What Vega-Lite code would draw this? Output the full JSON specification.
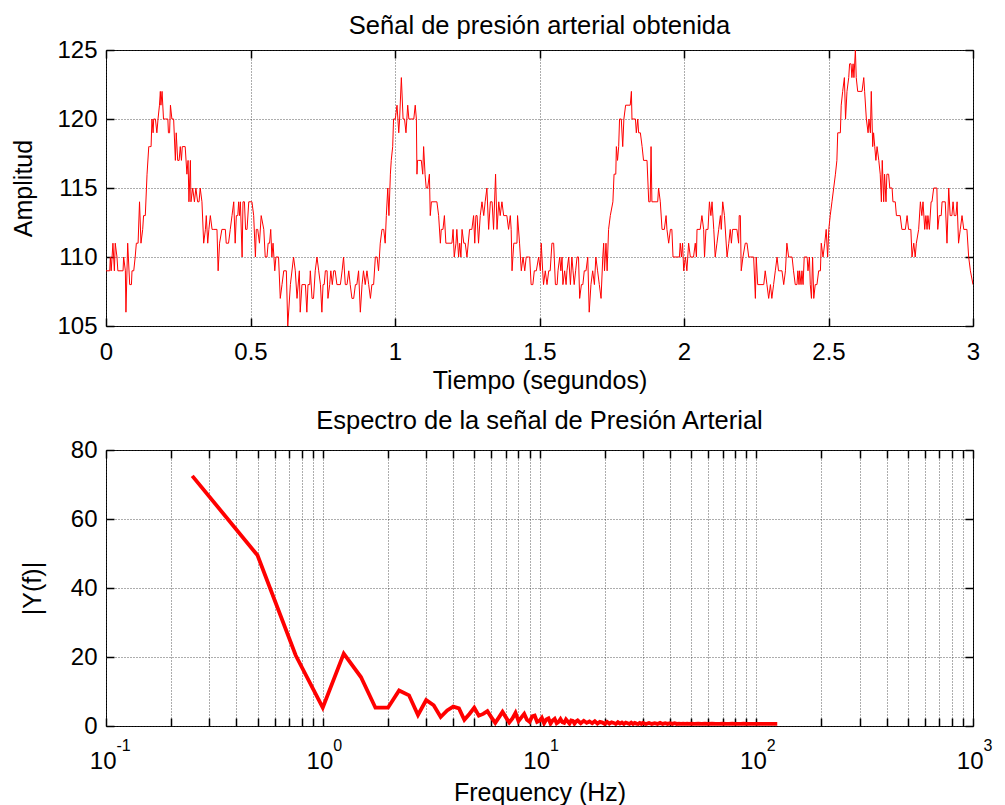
{
  "$schema": "https://vega.github.io/schema/vega-lite/v6.json",
  "background": "white",
  "padding": {"left": 11, "top": 13, "right": 10, "bottom": 0},
  "spacing": 14,
  "config": {
    "font": "Liberation Sans",
    "view": {"stroke": "black", "strokeWidth": 1},
    "axis": {
      "domain": false,
      "labelFont": "Liberation Sans",
      "labelFontSize": 24,
      "labelColor": "black",
      "titleFont": "Liberation Sans",
      "titleFontSize": 25,
      "titleFontWeight": "normal",
      "titleColor": "black",
      "tickColor": "black",
      "tickSize": -8,
      "tickWidth": 1.5,
      "gridColor": "#333333",
      "gridDash": [1, 2],
      "gridWidth": 1,
      "gridOpacity": 0.8,
      "labelOverlap": false,
      "labelFlush": false,
      "labelBound": false
    },
    "title": {"font": "Liberation Sans", "fontSize": 25.5, "fontWeight": "normal", "color": "black", "anchor": "middle"}
  },
  "datasets": {
    "pressure": [
      {"t":0,"p":109},{"t":0.013,"p":109},{"t":0.015,"p":110},{"t":0.018,"p":109},{"t":0.024,"p":111},{"t":0.029,"p":109},{"t":0.032,"p":111},{"t":0.038,"p":110},{"t":0.041,"p":109},{"t":0.059,"p":109},{"t":0.061,"p":110},{"t":0.067,"p":109},{"t":0.069,"p":106},{"t":0.075,"p":111},{"t":0.082,"p":108},{"t":0.088,"p":108},{"t":0.09,"p":109},{"t":0.096,"p":109},{"t":0.101,"p":110},{"t":0.105,"p":111},{"t":0.111,"p":111},{"t":0.116,"p":114},{"t":0.121,"p":111},{"t":0.127,"p":112},{"t":0.13,"p":113},{"t":0.136,"p":113},{"t":0.142,"p":116},{"t":0.148,"p":118},{"t":0.151,"p":118},{"t":0.156,"p":118},{"t":0.159,"p":120},{"t":0.163,"p":119},{"t":0.165,"p":120},{"t":0.171,"p":120},{"t":0.176,"p":119},{"t":0.18,"p":120},{"t":0.185,"p":121},{"t":0.188,"p":122},{"t":0.19,"p":121},{"t":0.194,"p":122},{"t":0.199,"p":120},{"t":0.205,"p":120},{"t":0.214,"p":120},{"t":0.216,"p":119},{"t":0.22,"p":119},{"t":0.223,"p":121},{"t":0.228,"p":120},{"t":0.234,"p":120},{"t":0.24,"p":117},{"t":0.243,"p":119},{"t":0.248,"p":117},{"t":0.253,"p":117},{"t":0.257,"p":118},{"t":0.261,"p":117},{"t":0.264,"p":118},{"t":0.274,"p":118},{"t":0.28,"p":116},{"t":0.284,"p":117},{"t":0.287,"p":114},{"t":0.292,"p":117},{"t":0.294,"p":114},{"t":0.3,"p":115},{"t":0.306,"p":114},{"t":0.311,"p":115},{"t":0.317,"p":114},{"t":0.322,"p":114},{"t":0.326,"p":115},{"t":0.332,"p":114},{"t":0.338,"p":111},{"t":0.344,"p":112},{"t":0.347,"p":113},{"t":0.352,"p":111},{"t":0.356,"p":112},{"t":0.361,"p":113},{"t":0.367,"p":112},{"t":0.373,"p":112},{"t":0.384,"p":112},{"t":0.388,"p":109},{"t":0.393,"p":111},{"t":0.401,"p":112},{"t":0.413,"p":112},{"t":0.416,"p":111},{"t":0.424,"p":111},{"t":0.43,"p":112},{"t":0.436,"p":113},{"t":0.442,"p":114},{"t":0.447,"p":111},{"t":0.451,"p":113},{"t":0.456,"p":113},{"t":0.459,"p":114},{"t":0.462,"p":113},{"t":0.465,"p":114},{"t":0.471,"p":110},{"t":0.474,"p":114},{"t":0.479,"p":114},{"t":0.483,"p":112},{"t":0.488,"p":112},{"t":0.494,"p":114},{"t":0.505,"p":114},{"t":0.511,"p":113},{"t":0.517,"p":110},{"t":0.52,"p":112},{"t":0.525,"p":112},{"t":0.531,"p":111},{"t":0.537,"p":113},{"t":0.546,"p":112},{"t":0.551,"p":110},{"t":0.557,"p":110},{"t":0.561,"p":111},{"t":0.566,"p":111},{"t":0.57,"p":112},{"t":0.574,"p":110},{"t":0.578,"p":111},{"t":0.584,"p":109},{"t":0.588,"p":110},{"t":0.597,"p":110},{"t":0.603,"p":107},{"t":0.609,"p":108},{"t":0.615,"p":109},{"t":0.624,"p":109},{"t":0.629,"p":105},{"t":0.638,"p":108},{"t":0.649,"p":110},{"t":0.655,"p":109},{"t":0.661,"p":107},{"t":0.669,"p":109},{"t":0.672,"p":106},{"t":0.678,"p":108},{"t":0.69,"p":108},{"t":0.695,"p":106},{"t":0.699,"p":108},{"t":0.705,"p":108},
      {"t":0.707,"p":109},{"t":0.713,"p":107},{"t":0.718,"p":107},{"t":0.724,"p":109},{"t":0.73,"p":110},{"t":0.736,"p":109},{"t":0.742,"p":108},{"t":0.747,"p":106},{"t":0.751,"p":108},{"t":0.755,"p":108},{"t":0.759,"p":109},{"t":0.765,"p":109},{"t":0.768,"p":107},{"t":0.774,"p":108},{"t":0.778,"p":109},{"t":0.783,"p":108},{"t":0.788,"p":109},{"t":0.793,"p":109},{"t":0.799,"p":108},{"t":0.811,"p":108},{"t":0.817,"p":109},{"t":0.822,"p":110},{"t":0.828,"p":108},{"t":0.834,"p":108},{"t":0.84,"p":109},{"t":0.845,"p":108},{"t":0.851,"p":107},{"t":0.857,"p":107},{"t":0.863,"p":108},{"t":0.868,"p":108},{"t":0.874,"p":109},{"t":0.88,"p":106},{"t":0.886,"p":108},{"t":0.891,"p":109},{"t":0.897,"p":108},{"t":0.903,"p":109},{"t":0.909,"p":108},{"t":0.915,"p":107},{"t":0.92,"p":108},{"t":0.926,"p":108},{"t":0.932,"p":110},{"t":0.938,"p":110},{"t":0.943,"p":109},{"t":0.949,"p":111},{"t":0.955,"p":112},{"t":0.961,"p":112},{"t":0.966,"p":111},{"t":0.97,"p":113},{"t":0.975,"p":115},{"t":0.979,"p":113},{"t":0.984,"p":116},{"t":0.987,"p":117},{"t":0.992,"p":118},{"t":0.995,"p":120},{"t":1.001,"p":120},{"t":1.007,"p":121},{"t":1.013,"p":119},{"t":1.016,"p":120},{"t":1.022,"p":123},{"t":1.028,"p":120},{"t":1.033,"p":120},{"t":1.038,"p":119},{"t":1.044,"p":121},{"t":1.048,"p":120},{"t":1.053,"p":120},{"t":1.065,"p":120},{"t":1.07,"p":121},{"t":1.074,"p":120},{"t":1.076,"p":116},{"t":1.078,"p":117},{"t":1.082,"p":117},{"t":1.091,"p":117},{"t":1.096,"p":116},{"t":1.099,"p":118},{"t":1.104,"p":116},{"t":1.108,"p":115},{"t":1.113,"p":115},{"t":1.119,"p":116},{"t":1.122,"p":113},{"t":1.126,"p":114},{"t":1.145,"p":114},{"t":1.151,"p":113},{"t":1.157,"p":111},{"t":1.16,"p":112},{"t":1.166,"p":112},{"t":1.171,"p":113},{"t":1.176,"p":111},{"t":1.197,"p":111},{"t":1.201,"p":112},{"t":1.205,"p":110},{"t":1.211,"p":111},{"t":1.214,"p":112},{"t":1.22,"p":110},{"t":1.224,"p":111},{"t":1.228,"p":110},{"t":1.232,"p":112},{"t":1.238,"p":111},{"t":1.243,"p":111},{"t":1.249,"p":110},{"t":1.258,"p":112},{"t":1.266,"p":112},{"t":1.272,"p":113},{"t":1.276,"p":111},{"t":1.28,"p":113},{"t":1.284,"p":113},{"t":1.289,"p":111},{"t":1.295,"p":113},{"t":1.301,"p":114},{"t":1.307,"p":113},{"t":1.312,"p":114},{"t":1.318,"p":115},{"t":1.324,"p":112},{"t":1.33,"p":114},{"t":1.336,"p":114},{"t":1.341,"p":112},{"t":1.348,"p":116},{"t":1.353,"p":112},{"t":1.359,"p":114},{"t":1.364,"p":113},{"t":1.37,"p":114},{"t":1.376,"p":113},{"t":1.387,"p":113},{"t":1.393,"p":112},{"t":1.399,"p":113},{"t":1.402,"p":112},{"t":1.405,"p":109},{"t":1.411,"p":111},{"t":1.422,"p":111},{"t":1.424,"p":113},{"t":1.431,"p":111},{"t":1.437,"p":109},{"t":1.443,"p":110},{"t":1.449,"p":109},{"t":1.454,"p":110},{"t":1.462,"p":110},
      {"t":1.466,"p":110},{"t":1.471,"p":108},{"t":1.477,"p":108},{"t":1.482,"p":109},{"t":1.489,"p":109},{"t":1.497,"p":110},{"t":1.503,"p":109},{"t":1.506,"p":111},{"t":1.511,"p":109},{"t":1.514,"p":108},{"t":1.52,"p":109},{"t":1.526,"p":108},{"t":1.532,"p":109},{"t":1.537,"p":109},{"t":1.543,"p":111},{"t":1.549,"p":111},{"t":1.555,"p":108},{"t":1.561,"p":108},{"t":1.564,"p":109},{"t":1.57,"p":110},{"t":1.574,"p":109},{"t":1.578,"p":110},{"t":1.581,"p":108},{"t":1.587,"p":109},{"t":1.592,"p":108},{"t":1.595,"p":109},{"t":1.601,"p":110},{"t":1.607,"p":108},{"t":1.612,"p":110},{"t":1.616,"p":109},{"t":1.62,"p":108},{"t":1.625,"p":109},{"t":1.63,"p":110},{"t":1.635,"p":110},{"t":1.639,"p":107},{"t":1.645,"p":108},{"t":1.65,"p":108},{"t":1.655,"p":109},{"t":1.661,"p":109},{"t":1.667,"p":110},{"t":1.672,"p":106},{"t":1.678,"p":108},{"t":1.684,"p":109},{"t":1.69,"p":108},{"t":1.695,"p":110},{"t":1.701,"p":109},{"t":1.707,"p":108},{"t":1.713,"p":107},{"t":1.719,"p":110},{"t":1.722,"p":111},{"t":1.725,"p":109},{"t":1.73,"p":111},{"t":1.734,"p":109},{"t":1.739,"p":112},{"t":1.745,"p":113},{"t":1.754,"p":114},{"t":1.758,"p":116},{"t":1.764,"p":116},{"t":1.766,"p":118},{"t":1.77,"p":117},{"t":1.774,"p":118},{"t":1.777,"p":120},{"t":1.783,"p":120},{"t":1.788,"p":118},{"t":1.792,"p":120},{"t":1.798,"p":121},{"t":1.814,"p":121},{"t":1.818,"p":122},{"t":1.82,"p":120},{"t":1.832,"p":120},{"t":1.835,"p":119},{"t":1.84,"p":120},{"t":1.843,"p":119},{"t":1.849,"p":119},{"t":1.855,"p":118},{"t":1.86,"p":117},{"t":1.872,"p":117},{"t":1.878,"p":114},{"t":1.883,"p":114},{"t":1.886,"p":118},{"t":1.889,"p":114},{"t":1.909,"p":114},{"t":1.912,"p":115},{"t":1.918,"p":114},{"t":1.924,"p":112},{"t":1.932,"p":112},{"t":1.938,"p":113},{"t":1.941,"p":112},{"t":1.947,"p":111},{"t":1.953,"p":112},{"t":1.958,"p":112},{"t":1.962,"p":110},{"t":1.984,"p":110},{"t":1.987,"p":111},{"t":1.991,"p":110},{"t":1.995,"p":111},{"t":1.999,"p":109},{"t":2.005,"p":110},{"t":2.01,"p":109},{"t":2.016,"p":111},{"t":2.022,"p":110},{"t":2.033,"p":110},{"t":2.039,"p":111},{"t":2.043,"p":110},{"t":2.045,"p":112},{"t":2.056,"p":112},{"t":2.062,"p":113},{"t":2.068,"p":112},{"t":2.071,"p":110},{"t":2.076,"p":112},{"t":2.083,"p":112},{"t":2.088,"p":114},{"t":2.093,"p":113},{"t":2.097,"p":114},{"t":2.103,"p":112},{"t":2.108,"p":110},{"t":2.114,"p":111},{"t":2.12,"p":112},{"t":2.126,"p":113},{"t":2.129,"p":112},{"t":2.134,"p":114},{"t":2.14,"p":113},{"t":2.149,"p":110},{"t":2.155,"p":111},{"t":2.16,"p":112},{"t":2.164,"p":111},{"t":2.168,"p":112},{"t":2.183,"p":112},{"t":2.189,"p":111},{"t":2.191,"p":113},{"t":2.195,"p":113},{"t":2.198,"p":109},{"t":2.204,"p":110},{"t":2.212,"p":111},{"t":2.218,"p":111},{"t":2.224,"p":110},{"t":2.229,"p":110},
      {"t":2.241,"p":110},{"t":2.247,"p":107},{"t":2.25,"p":110},{"t":2.255,"p":108},{"t":2.276,"p":108},{"t":2.281,"p":109},{"t":2.287,"p":108},{"t":2.293,"p":107},{"t":2.299,"p":108},{"t":2.304,"p":107},{"t":2.31,"p":108},{"t":2.316,"p":109},{"t":2.322,"p":110},{"t":2.327,"p":109},{"t":2.339,"p":109},{"t":2.345,"p":108},{"t":2.351,"p":109},{"t":2.356,"p":111},{"t":2.362,"p":110},{"t":2.374,"p":110},{"t":2.379,"p":109},{"t":2.385,"p":108},{"t":2.391,"p":108},{"t":2.394,"p":109},{"t":2.398,"p":108},{"t":2.4,"p":109},{"t":2.405,"p":108},{"t":2.408,"p":109},{"t":2.412,"p":108},{"t":2.416,"p":110},{"t":2.426,"p":110},{"t":2.429,"p":109},{"t":2.434,"p":110},{"t":2.437,"p":108},{"t":2.441,"p":107},{"t":2.445,"p":110},{"t":2.449,"p":107},{"t":2.454,"p":108},{"t":2.46,"p":108},{"t":2.466,"p":109},{"t":2.472,"p":109},{"t":2.475,"p":111},{"t":2.481,"p":110},{"t":2.487,"p":111},{"t":2.492,"p":112},{"t":2.497,"p":110},{"t":2.501,"p":112},{"t":2.506,"p":113},{"t":2.512,"p":114},{"t":2.518,"p":115},{"t":2.524,"p":116},{"t":2.529,"p":117},{"t":2.532,"p":119},{"t":2.541,"p":119},{"t":2.544,"p":121},{"t":2.549,"p":122},{"t":2.555,"p":123},{"t":2.559,"p":120},{"t":2.564,"p":122},{"t":2.57,"p":123},{"t":2.573,"p":124},{"t":2.578,"p":124},{"t":2.581,"p":123},{"t":2.585,"p":124},{"t":2.588,"p":123},{"t":2.593,"p":125},{"t":2.596,"p":123},{"t":2.601,"p":122},{"t":2.616,"p":122},{"t":2.622,"p":123},{"t":2.625,"p":122},{"t":2.631,"p":120},{"t":2.637,"p":119},{"t":2.64,"p":120},{"t":2.645,"p":119},{"t":2.648,"p":122},{"t":2.653,"p":118},{"t":2.656,"p":119},{"t":2.66,"p":118},{"t":2.664,"p":117},{"t":2.668,"p":118},{"t":2.674,"p":117},{"t":2.679,"p":116},{"t":2.683,"p":114},{"t":2.686,"p":117},{"t":2.691,"p":114},{"t":2.694,"p":116},{"t":2.699,"p":114},{"t":2.702,"p":116},{"t":2.708,"p":116},{"t":2.712,"p":115},{"t":2.72,"p":115},{"t":2.723,"p":114},{"t":2.731,"p":114},{"t":2.735,"p":113},{"t":2.748,"p":113},{"t":2.754,"p":112},{"t":2.766,"p":112},{"t":2.772,"p":113},{"t":2.777,"p":112},{"t":2.785,"p":112},{"t":2.789,"p":110},{"t":2.795,"p":111},{"t":2.8,"p":110},{"t":2.804,"p":111},{"t":2.812,"p":112},{"t":2.818,"p":114},{"t":2.823,"p":113},{"t":2.827,"p":114},{"t":2.833,"p":112},{"t":2.837,"p":113},{"t":2.841,"p":112},{"t":2.844,"p":113},{"t":2.849,"p":112},{"t":2.855,"p":114},{"t":2.858,"p":114},{"t":2.864,"p":115},{"t":2.875,"p":115},{"t":2.878,"p":112},{"t":2.883,"p":113},{"t":2.89,"p":113},{"t":2.893,"p":114},{"t":2.904,"p":114},{"t":2.91,"p":111},{"t":2.916,"p":115},{"t":2.921,"p":113},{"t":2.927,"p":113},{"t":2.931,"p":114},{"t":2.935,"p":113},{"t":2.941,"p":113},{"t":2.945,"p":114},{"t":2.95,"p":111},{"t":2.956,"p":112},{"t":2.962,"p":113},{"t":2.968,"p":112},{"t":2.979,"p":112},{"t":2.985,"p":110},{"t":2.991,"p":109},{"t":3,"p":108}
    ],
    "spectrum": [
      {"f":0.25,"a":72.5},{"f":0.5,"a":49.5},{"f":0.75,"a":20.5},{"f":1,"a":5.3},{"f":1.25,"a":21},{"f":1.5,"a":14.2},{"f":1.75,"a":5.3},{"f":2,"a":5.3},{"f":2.25,"a":10.3},{"f":2.5,"a":8.9},{"f":2.75,"a":3.2},{"f":3,"a":7.5},{"f":3.25,"a":6},{"f":3.5,"a":2.6},{"f":3.75,"a":4.5},{"f":4,"a":5.6},{"f":4.25,"a":5.1},{"f":4.5,"a":1.8},{"f":4.75,"a":3.5},{"f":5,"a":5.3},{"f":5.25,"a":3},{"f":5.5,"a":3.5},{"f":5.75,"a":4.3},{"f":6,"a":2.5},{"f":6.25,"a":0.9},{"f":6.5,"a":2.5},{"f":6.75,"a":4.1},{"f":7,"a":2.5},{"f":7.25,"a":1},{"f":7.5,"a":2.2},{"f":7.75,"a":3.8},{"f":8,"a":1.4},{"f":8.25,"a":2.5},{"f":8.5,"a":3.5},{"f":8.75,"a":1.8},{"f":9,"a":1.2},{"f":9.25,"a":2.8},{"f":9.5,"a":3},{"f":9.75,"a":1.2},{"f":10,"a":1.5},
      {"f":10.25,"a":2.4},{"f":10.5,"a":0.8},{"f":10.75,"a":1.9},{"f":11,"a":2.2},{"f":11.25,"a":0.7},{"f":11.5,"a":1.6},{"f":11.75,"a":2.1},{"f":12,"a":0.8},{"f":12.25,"a":1.2},{"f":12.5,"a":2},{"f":12.75,"a":1.1},{"f":13,"a":0.9},{"f":13.25,"a":1.9},{"f":13.5,"a":1.3},{"f":13.75,"a":0.7},{"f":14,"a":1.6},{"f":14.25,"a":1.5},{"f":14.5,"a":0.7},{"f":14.75,"a":1.3},{"f":15,"a":1.6},{"f":15.5,"a":0.8},{"f":16,"a":1.5},{"f":16.5,"a":0.9},{"f":17,"a":1.3},{"f":17.5,"a":0.8},{"f":18,"a":1.4},{"f":18.5,"a":0.7},{"f":19,"a":1.2},{"f":19.5,"a":1},{"f":20,"a":0.6},{"f":20.5,"a":1.2},{"f":21,"a":0.7},{"f":21.5,"a":1.1},{"f":22,"a":0.9},{"f":22.5,"a":0.6},{"f":23,"a":1.1},{"f":23.5,"a":0.7},{"f":24,"a":1},{"f":24.5,"a":0.6},{"f":25,"a":1},{"f":25.5,"a":0.8},{"f":26,"a":0.6},{"f":26.5,"a":1},{"f":27,"a":0.6},{"f":27.5,"a":0.9},{"f":28,"a":0.7},{"f":28.5,"a":0.6},{"f":29,"a":0.9},{"f":29.5,"a":0.6},{"f":30,"a":0.9},
      {"f":31,"a":0.6},{"f":32,"a":0.9},{"f":33,"a":0.6},{"f":34,"a":0.8},{"f":35,"a":0.6},{"f":36,"a":0.9},{"f":37,"a":0.6},{"f":38,"a":0.8},{"f":39,"a":0.6},{"f":40,"a":0.8},{"f":41,"a":0.6},{"f":42,"a":0.8},{"f":43,"a":0.6},{"f":44,"a":0.7},{"f":45,"a":0.6},{"f":46,"a":0.7},{"f":47,"a":0.6},{"f":48,"a":0.7},{"f":49,"a":0.6},{"f":50,"a":0.7},{"f":52,"a":0.6},{"f":54,"a":0.7},{"f":56,"a":0.6},{"f":58,"a":0.7},{"f":60,"a":0.6},{"f":62.5,"a":0.7},{"f":65,"a":0.6},{"f":67.5,"a":0.6},{"f":70,"a":0.7},{"f":72.5,"a":0.6},{"f":75,"a":0.6},{"f":77.5,"a":0.7},{"f":80,"a":0.6},{"f":82.5,"a":0.6},{"f":85,"a":0.6},{"f":87.5,"a":0.7},{"f":90,"a":0.6},{"f":92.5,"a":0.6},{"f":95,"a":0.6},{"f":97.5,"a":0.6},{"f":100,"a":0.6},{"f":102.5,"a":0.6},{"f":105,"a":0.6},{"f":107.5,"a":0.6},{"f":110,"a":0.6},{"f":112.5,"a":0.6},{"f":115,"a":0.6},{"f":117.5,"a":0.6},{"f":120,"a":0.6},{"f":122.5,"a":0.6},{"f":125,"a":0.6}
    ]
  },
  "vconcat": [
    {
      "width": 867,
      "height": 276,
      "title": {"text": "Señal de presión arterial obtenida", "offset": -21, "baseline": "alphabetic"},
      "data": {"name": "pressure"},
      "layer": [
        {
          "mark": {"type": "line", "color": "#ff0000", "strokeWidth": 1, "clip": true},
          "encoding": {
            "x": {"field": "t", "type": "quantitative",
                  "scale": {"domain": [0, 3], "nice": false, "zero": false},
                  "axis": {"orient": "bottom", "values": [0, 0.5, 1, 1.5, 2, 2.5, 3], "format": "~g", "grid": true,
                           "labelPadding": 22, "title": "Tiempo (segundos)", "titlePadding": 4}},
            "y": {"field": "p", "type": "quantitative",
                  "scale": {"domain": [105, 125], "nice": false, "zero": false},
                  "axis": {"orient": "left", "values": [105, 110, 115, 120, 125], "format": "d", "grid": true,
                           "labelPadding": 17, "title": "Amplitud", "titlePadding": 20}}
          }
        },
        {
          "mark": {"type": "line", "strokeOpacity": 0},
          "encoding": {
            "x": {"field": "t", "type": "quantitative",
                  "axis": {"orient": "top", "values": [0, 0.5, 1, 1.5, 2, 2.5, 3], "labels": false, "grid": false, "title": null,
                           "minExtent": 0, "maxExtent": 0}},
            "y": {"field": "p", "type": "quantitative",
                  "axis": {"orient": "right", "values": [105, 110, 115, 120, 125], "labels": false, "grid": false, "title": null,
                           "minExtent": 0, "maxExtent": 0}}
          }
        }
      ],
      "resolve": {"axis": {"x": "independent", "y": "independent"}}
    },
    {
      "width": 867,
      "height": 276,
      "title": {"text": "Espectro de la señal de Presión Arterial", "offset": -16, "baseline": "alphabetic"},
      "data": {"name": "spectrum"},
      "layer": [
        {
          "mark": {"type": "line", "color": "#ff0000", "strokeWidth": 3.8, "clip": true},
          "encoding": {
            "x": {"field": "f", "type": "quantitative",
                  "scale": {"type": "log", "domain": [0.1, 1000], "nice": false},
                  "axis": {"orient": "bottom", "grid": true,
                           "values": [0.1, 0.2, 0.3, 0.4, 0.5, 0.6, 0.7, 0.8, 0.9, 1, 2, 3, 4, 5, 6, 7, 8, 9, 10, 20, 30, 40, 50, 60, 70, 80, 90, 100, 200, 300, 400, 500, 600, 700, 800, 900, 1000],
                           "labelExpr": "indexof([0.1, 1, 10, 100, 1000], datum.value) >= 0 ? '10' : ''",
                           "labelAlign": "right", "labelOffset": 10, "labelPadding": 31,
                           "title": "Frequency (Hz)", "titlePadding": 7}},
            "y": {"field": "a", "type": "quantitative",
                  "scale": {"domain": [0, 80], "nice": false},
                  "axis": {"orient": "left", "values": [0, 20, 40, 60, 80], "grid": true,
                           "labelPadding": 17, "title": "|Y(f)|", "titlePadding": 25}}
          }
        },
        {
          "mark": {"type": "line", "strokeOpacity": 0},
          "encoding": {
            "x": {"field": "f", "type": "quantitative",
                  "axis": {"orient": "top", "grid": false, "labels": false, "title": null, "minExtent": 0, "maxExtent": 0,
                           "values": [0.1, 0.2, 0.3, 0.4, 0.5, 0.6, 0.7, 0.8, 0.9, 1, 2, 3, 4, 5, 6, 7, 8, 9, 10, 20, 30, 40, 50, 60, 70, 80, 90, 100, 200, 300, 400, 500, 600, 700, 800, 900, 1000]}},
            "y": {"field": "a", "type": "quantitative",
                  "axis": {"orient": "right", "values": [0, 20, 40, 60, 80], "labels": false, "grid": false, "title": null,
                           "minExtent": 0, "maxExtent": 0}}
          }
        },
        {
          "mark": {"type": "line", "strokeOpacity": 0},
          "encoding": {
            "x": {"field": "f", "type": "quantitative",
                  "axis": {"orient": "bottom", "grid": false, "ticks": false, "tickSize": 0, "title": null,
                           "values": [0.1, 1, 10, 100, 1000],
                           "labelExpr": "datum.value == 0.1 ? '-1' : datum.value == 1 ? '0' : datum.value == 10 ? '1' : datum.value == 100 ? '2' : '3'",
                           "labelAlign": "left", "labelOffset": 10, "labelFontSize": 16, "labelPadding": 11.5}},
            "y": {"field": "a", "type": "quantitative", "axis": null}
          }
        }
      ],
      "resolve": {"axis": {"x": "independent", "y": "independent"}}
    }
  ]
}
